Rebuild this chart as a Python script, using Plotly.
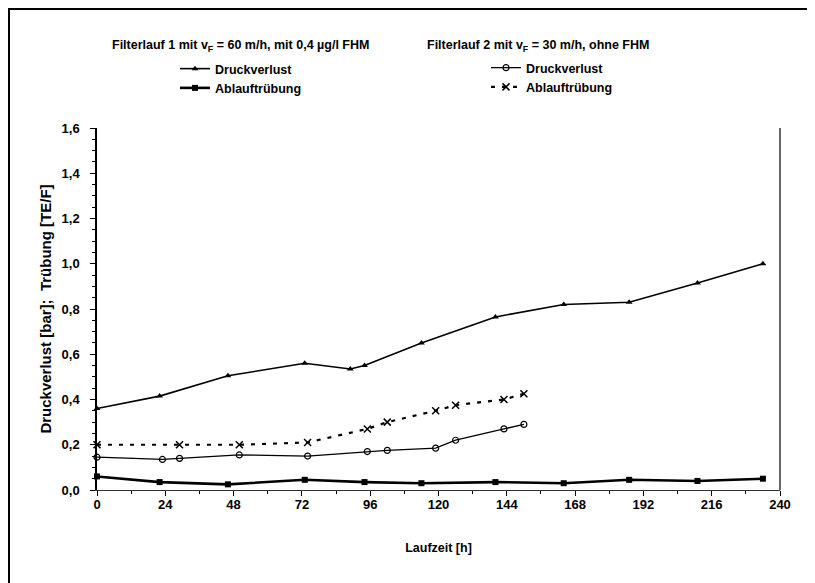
import plotly.graph_objects as go

# ---- data ----
x_dv1 = [0, 22, 46, 73, 89, 94, 114, 140, 164, 187, 211, 234]
y_dv1 = [0.36, 0.415, 0.505, 0.56, 0.535, 0.55, 0.65, 0.765, 0.82, 0.83, 0.915, 1.0]

x_at1 = [0, 22, 46, 73, 94, 114, 140, 164, 187, 211, 234]
y_at1 = [0.06, 0.035, 0.025, 0.045, 0.035, 0.03, 0.035, 0.03, 0.045, 0.04, 0.05]

x_dv2 = [0, 23, 29, 50, 74, 95, 102, 119, 126, 143, 150]
y_dv2 = [0.145, 0.135, 0.14, 0.155, 0.15, 0.17, 0.175, 0.185, 0.22, 0.27, 0.29]

x_at2 = [0, 29, 50, 74, 95, 102, 119, 126, 143, 150]
y_at2 = [0.2, 0.2, 0.2, 0.21, 0.27, 0.3, 0.35, 0.375, 0.4, 0.425]

x_ticks = list(range(0, 241, 24))
title1 = "Filterlauf 1 mit v<sub>F</sub> = 60 m/h, mit 0,4 µg/l FHM"
title2 = "Filterlauf 2 mit v<sub>F</sub> = 30 m/h, ohne FHM"

W, H = 815, 583
L, R, T, B = 89, 772, 120, 482
FONT = "Liberation Sans, Arial"


def px(x):
    return (x - L) / (R - L)


def py(y):
    return (B - y) / (B - T)


fig = go.Figure()
fig.add_trace(go.Scatter(x=x_dv1, y=y_dv1, name="Druckverlust", mode="lines+markers",
                         line=dict(color="black", width=1.6),
                         marker=dict(symbol="triangle-up", size=6, color="black"),
                         cliponaxis=False, legend="legend"))
fig.add_trace(go.Scatter(x=x_at1, y=y_at1, name="Ablauftrübung", mode="lines+markers",
                         line=dict(color="black", width=2.6),
                         marker=dict(symbol="square", size=6, color="black"),
                         cliponaxis=False, legend="legend"))
fig.add_trace(go.Scatter(x=x_dv2, y=y_dv2, name="Druckverlust", mode="lines+markers",
                         line=dict(color="black", width=1.3),
                         marker=dict(symbol="circle-open", size=6, color="black", line=dict(width=1.2)),
                         cliponaxis=False, legend="legend2"))
fig.add_trace(go.Scatter(x=x_at2, y=y_at2, name="Ablauftrübung", mode="lines+markers",
                         line=dict(color="black", width=2.2, dash="4px,7px"),
                         marker=dict(symbol="x-thin-open", size=7, color="black", line=dict(width=1.5)),
                         cliponaxis=False, legend="legend2"))

font = dict(family=FONT, size=12.5, color="black", weight="bold")
lfont = dict(family=FONT, size=12.5, color="black", weight="bold")
tfont = dict(family=FONT, size=13, color="black", weight="bold")
xafont = dict(family=FONT, size=12.5, color="black", weight="bold")
yafont = dict(family=FONT, size=15, color="black", weight="bold")

fig.update_layout(
    width=W, height=H,
    margin=dict(l=L, r=W - R, t=T, b=H - B, pad=0),
    paper_bgcolor="white", plot_bgcolor="white",
    separators=",.",
    font=font,
    showlegend=True,
    legend=dict(x=px(167), y=py(46), xanchor="left", yanchor="top",
                bgcolor="rgba(0,0,0,0)", font=lfont, tracegroupgap=0, itemwidth=30),
    legend2=dict(x=px(478), y=py(45), xanchor="left", yanchor="top",
                 bgcolor="rgba(0,0,0,0)", font=lfont, tracegroupgap=0, itemwidth=30),
    xaxis=dict(range=[0, 240], tickvals=x_ticks, ticks="outside", ticklen=5, tickwidth=1,
               tickcolor="black", showline=True, linecolor="#333333", linewidth=1.2,
               mirror=False, showgrid=False, zeroline=False, ticklabelstandoff=-3,
               minor=dict(dtick=12, ticks="outside", ticklen=3, tickcolor="black", showgrid=False),
               title=dict(text="Laufzeit [h]", font=xafont, standoff=32),
               tickfont=tfont),
    yaxis=dict(range=[0, 1.6], dtick=0.2, tickformat=".1f", ticks="outside", ticklen=5,
               tickwidth=1, tickcolor="black", showline=True, linecolor="black", linewidth=1.5,
               showgrid=False, zeroline=False, ticklabelstandoff=8,
               minor=dict(dtick=0.05, ticks="outside", ticklen=3, tickcolor="black", showgrid=False),
               title=dict(text="Druckverlust [bar];  Trübung [TE/F]", font=yafont, standoff=6),
               tickfont=tfont),
    annotations=[
        dict(text=title1, x=px(232), y=py(38), xref="paper", yref="paper",
             showarrow=False, font=font, xanchor="center", yanchor="middle"),
        dict(text=title2, x=px(530), y=py(38), xref="paper", yref="paper",
             showarrow=False, font=font, xanchor="center", yanchor="middle"),
    ],
    shapes=[
        # outer frame of the figure
        dict(type="rect", xref="paper", yref="paper", x0=px(1), x1=px(840), y0=py(620), y1=py(1),
             line=dict(color="black", width=2), layer="below"),
        # right border of plot area
        dict(type="line", xref="paper", yref="paper", x0=1, x1=1, y0=0, y1=1,
             line=dict(color="black", width=1.2)),
    ],
)

fig.write_html("out.html")
